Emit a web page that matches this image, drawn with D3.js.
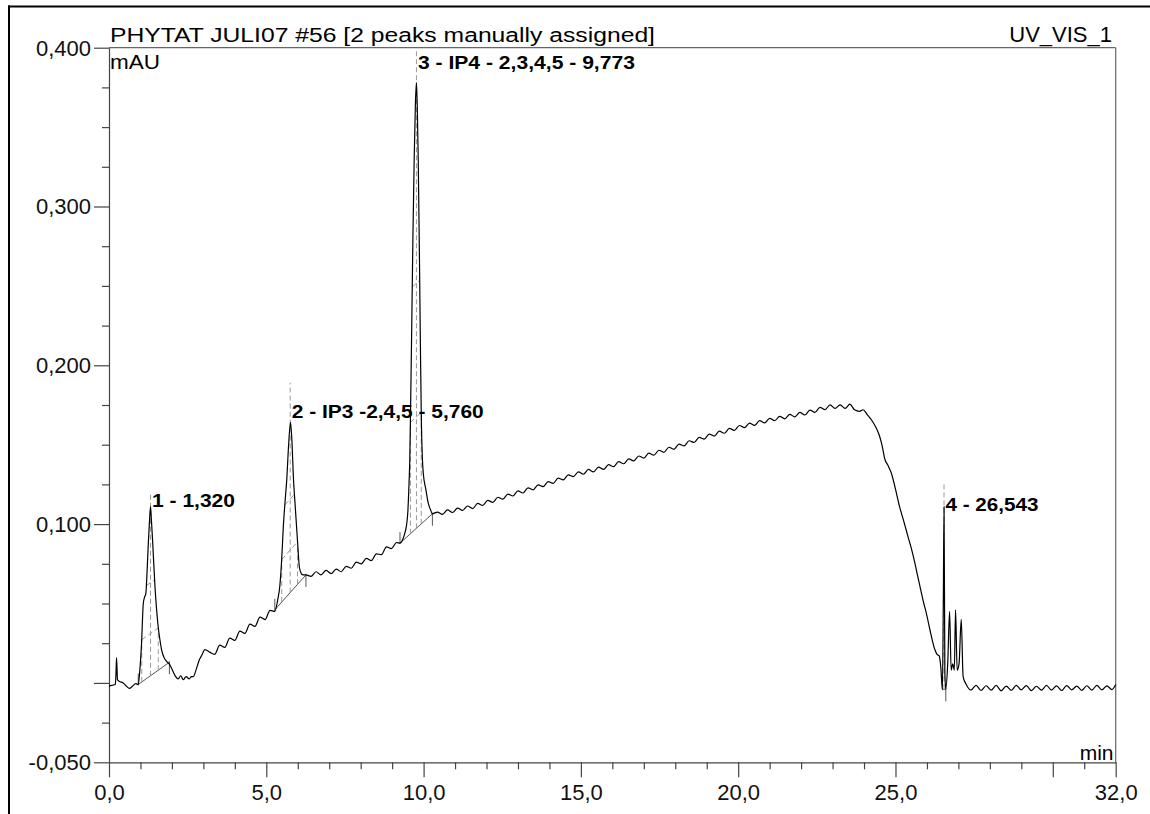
<!DOCTYPE html>
<html><head><meta charset="utf-8">
<script src="https://cdn.jsdelivr.net/npm/d3@7"></script>
<style>
body{margin:0;background:#fff}
svg{display:block}
text{font-family:"Liberation Sans",Arial,Helvetica,sans-serif}
</style>
</head><body>
<svg id="chart" width="1150" height="814"></svg>
<script>
// ---------- texts ----------
const titleText = "PHYTAT JULI07 #56 [2 peaks manually assigned]";
const channelText = "UV_VIS_1";
const yUnitText = "mAU";
const xUnitText = "min";

// ---------- axis ticks ----------
const xMajorTicks = [0, 5, 10, 15, 20, 25, 30, 32];
const xMajorLabels = ["0,0", "5,0", "10,0", "15,0", "20,0", "25,0", "", "32,0"];
const xMinorTicks = [1,2,3,4,6,7,8,9,11,12,13,14,16,17,18,19,21,22,23,24,26,27,28,29,31];
const yMajorTicks = [0.400, 0.300, 0.200, 0.100, 0.000, -0.050];
const yMajorLabels = ["0,400", "0,300", "0,200", "0,100", "", "-0,050"];
const yMinorTicks = [0.375, 0.350, 0.325, 0.275, 0.250, 0.225, 0.175, 0.150, 0.125, 0.075, 0.050, 0.025, -0.025];

// ---------- chromatogram trace: [time (min), signal] ----------
const trace = [
 [0.00,-0.0020],[0.10,-0.0015],[0.20,-0.0010],[0.22,0.0050],[0.24,0.0160],[0.27,0.0020],[0.32,0.0010],
 [0.45,0.0000],[0.55,-0.0020],[0.65,-0.0035],[0.75,-0.0020],[0.85,-0.0005],[0.93,-0.0010],
 [0.98,0.0080],[1.03,0.0230],[1.09,0.0500],[1.13,0.0540],[1.17,0.0560],[1.21,0.0700],[1.25,0.0880],
 [1.29,0.1030],[1.32,0.1110],[1.35,0.1020],[1.39,0.0880],[1.46,0.0610],[1.51,0.0470],[1.56,0.0360],
 [1.62,0.0270],[1.67,0.0210],[1.75,0.0160],[1.83,0.0136],[1.93,0.0115],[1.98,0.0095],[2.04,0.0070],
 [2.12,0.0040],[2.20,0.0025],[2.28,0.0045],[2.36,0.0020],[2.45,0.0040],[2.55,0.0025],[2.62,0.0040],
 [2.68,0.0040],[2.78,0.0090],[2.86,0.0140],[2.94,0.0170],[3.05,0.0210],
 [3.20,0.0194],[3.36,0.0180],[3.52,0.0238],[3.68,0.0224],[3.84,0.0282],[4.00,0.0268],[4.16,0.0326],
 [4.32,0.0312],[4.48,0.0370],[4.64,0.0356],[4.80,0.0414],[4.96,0.0399],[5.12,0.0457],[5.27,0.0450],
 [5.36,0.0520],[5.43,0.0610],[5.49,0.0780],[5.54,0.0980],[5.60,0.1150],[5.65,0.1280],[5.71,0.1500],
 [5.77,0.1640],[5.82,0.1500],[5.86,0.1300],[5.91,0.1140],[5.96,0.0990],[6.01,0.0840],[6.05,0.0730],
 [6.11,0.0690],[6.17,0.0680],[6.26,0.0680],
 [6.42,0.0671],[6.58,0.0700],[6.74,0.0680],[6.90,0.0708],[7.06,0.0688],[7.22,0.0717],[7.38,0.0700],
 [7.54,0.0734],[7.70,0.0722],[7.86,0.0760],[8.02,0.0750],[8.18,0.0784],[8.34,0.0770],[8.50,0.0812],
 [8.66,0.0808],[8.82,0.0857],[8.98,0.0846],[9.14,0.0884],[9.25,0.0880],
 [9.33,0.0900],[9.40,0.0940],[9.46,0.0997],[9.50,0.1080],[9.53,0.1220],[9.56,0.1400],[9.58,0.1640],
 [9.62,0.2200],[9.66,0.2800],[9.70,0.3290],[9.74,0.3650],[9.773,0.3780],[9.80,0.3620],[9.83,0.3290],
 [9.87,0.2650],[9.90,0.2100],[9.93,0.1640],[9.96,0.1420],[9.99,0.1320],[10.07,0.1220],[10.15,0.1130],
 [10.22,0.1090],[10.28,0.1065],
 [10.44,0.1076],[10.60,0.1061],[10.76,0.1089],[10.92,0.1073],[11.08,0.1101],[11.24,0.1086],[11.40,0.1114],
 [11.56,0.1098],[11.72,0.1130],[11.88,0.1118],[12.04,0.1149],[12.20,0.1137],[12.36,0.1169],[12.52,0.1157],
 [12.68,0.1189],[12.84,0.1177],[13.00,0.1209],[13.16,0.1196],[13.32,0.1228],[13.48,0.1216],[13.64,0.1247],
 [13.80,0.1236],[13.96,0.1268],[14.12,0.1257],[14.28,0.1289],[14.44,0.1278],[14.60,0.1310],[14.76,0.1299],
 [14.92,0.1329],[15.08,0.1314],[15.24,0.1344],[15.40,0.1329],[15.56,0.1359],[15.72,0.1344],[15.88,0.1374],
 [16.04,0.1362],[16.20,0.1393],[16.36,0.1380],[16.52,0.1411],[16.68,0.1398],[16.84,0.1429],[17.00,0.1416],
 [17.16,0.1447],[17.32,0.1434],[17.48,0.1465],[17.64,0.1452],[17.80,0.1484],[17.96,0.1471],[18.12,0.1504],
 [18.28,0.1492],[18.44,0.1525],[18.60,0.1514],[18.76,0.1546],[18.92,0.1535],[19.08,0.1567],[19.24,0.1554],
 [19.40,0.1585],[19.56,0.1572],[19.72,0.1603],[19.88,0.1590],[20.04,0.1621],[20.20,0.1607],[20.36,0.1636],
 [20.52,0.1622],[20.68,0.1651],[20.84,0.1637],[21.00,0.1666],[21.16,0.1651],[21.32,0.1679],[21.48,0.1663],
 [21.64,0.1691],[21.80,0.1675],[21.96,0.1703],[22.12,0.1687],[22.28,0.1718],[22.44,0.1704],[22.60,0.1735],
 [22.76,0.1721],[22.92,0.1751],[23.08,0.1729],[23.24,0.1751],[23.40,0.1729],[23.55,0.1755],[23.70,0.1720],
 [23.86,0.1710],[23.97,0.1720],[24.10,0.1690],[24.29,0.1640],[24.40,0.1600],[24.50,0.1550],[24.58,0.1490],
 [24.66,0.1410],[24.76,0.1370],[24.87,0.1320],[25.00,0.1220],[25.13,0.1110],[25.26,0.1020],[25.40,0.0920],
 [25.50,0.0850],[25.61,0.0760],[25.72,0.0660],[25.82,0.0570],[25.90,0.0500],[25.98,0.0440],[26.10,0.0330],
 [26.25,0.0210],[26.32,0.0180],[26.39,0.0170],[26.44,0.0100],[26.49,-0.0040],[26.52,0.0500],[26.543,0.1110],
 [26.57,0.0060],[26.60,-0.0040],[26.66,0.0120],[26.72,0.0450],[26.77,0.0080],[26.82,0.0120],[26.87,0.0080],
 [26.91,0.0460],[26.96,0.0080],[27.02,0.0120],[27.09,0.0400],[27.15,0.0040],[27.25,-0.0010],
 [27.40,-0.0045],[27.56,-0.0015],[27.72,-0.0048],[27.88,-0.0018],[28.04,-0.0046],[28.20,-0.0016],[28.36,-0.0050],
 [28.52,-0.0020],[28.68,-0.0047],[28.84,-0.0015],[29.00,-0.0044],[29.16,-0.0017],[29.32,-0.0049],[29.48,-0.0021],
 [29.64,-0.0046],[29.80,-0.0016],[29.96,-0.0045],[30.12,-0.0019],[30.28,-0.0048],[30.44,-0.0017],[30.60,-0.0044],
 [30.76,-0.0020],[30.92,-0.0047],[31.08,-0.0018],[31.24,-0.0045],[31.40,-0.0016],[31.56,-0.0044],[31.72,-0.0019],
 [31.88,-0.0042],[32.00,-0.0010]
];

// ---------- peaks ----------
const peakTimes   = [1.320, 5.760, 9.773, 26.543];
const peakApex    = [0.111, 0.164, 0.378, 0.111];
const peakLabels  = ["1 - 1,320", "2 - IP3 -2,4,5 - 5,760", "3 - IP4 - 2,3,4,5 - 9,773", "4 - 26,543"];
const peakLabelAt = [0.1110, 0.1665, 0.3865, 0.1085];   // signal level of label baseline
const peakMarkTop = [0.1190, 0.1890, 0.3990, 0.1250];   // top of peak marker
const peakStartT  = [0.93, 5.27, 9.25, 26.49];
const peakStartV  = [-0.0010, 0.0460, 0.0880, -0.0040];
const peakEndT    = [1.92, 6.26, 10.28, 26.60];
const peakEndV    = [0.0130, 0.0680, 0.1065, -0.0040];

// ---------- drawing ----------
const svg = d3.select("#chart");
const x = d3.scaleLinear().domain([0, 32]).range([109, 1115.7]);
const y = d3.scaleLinear().domain([-0.05, 0.40]).range([762.3, 47.7]);
const FS = 22;

// outer frame (top + left edges visible)
svg.append("line").attr("x1", 8).attr("x2", 1150).attr("y1", 6.5).attr("y2", 6.5)
  .attr("stroke", "#000").attr("stroke-width", 2);
svg.append("line").attr("x1", 9).attr("x2", 9).attr("y1", 5.5).attr("y2", 814)
  .attr("stroke", "#000").attr("stroke-width", 2);

// plot frame (top + right)
svg.append("line").attr("x1", x(0)).attr("x2", x(32)).attr("y1", y(0.4)).attr("y2", y(0.4))
  .attr("stroke", "#666").attr("stroke-width", 1.2);
svg.append("line").attr("x1", x(32)).attr("x2", x(32)).attr("y1", y(0.4)).attr("y2", y(-0.05))
  .attr("stroke", "#666").attr("stroke-width", 1.2);

function styleAxis(g) {
  g.selectAll("path.domain").attr("stroke", "#444").attr("stroke-width", 1.2);
  g.selectAll(".tick line").attr("stroke", "#444").attr("stroke-width", 1.2);
  g.selectAll(".tick text").attr("font-size", FS).attr("fill", "#111")
    .attr("font-family", '"Liberation Sans", Arial, sans-serif');
}

// x axis
const gxMinor = svg.append("g").attr("transform", `translate(0,${y(-0.05)})`)
  .call(d3.axisBottom(x).tickValues(xMinorTicks).tickSize(7).tickSizeOuter(0).tickFormat(""));
gxMinor.select("path.domain").remove();
styleAxis(gxMinor);
const gx = svg.append("g").attr("transform", `translate(0,${y(-0.05)})`)
  .call(d3.axisBottom(x).tickValues(xMajorTicks).tickSize(15).tickSizeOuter(0).tickPadding(7)
    .tickFormat((d, i) => xMajorLabels[i]));
styleAxis(gx);

// y axis
const gyMinor = svg.append("g").attr("transform", `translate(${x(0)},0)`)
  .call(d3.axisLeft(y).tickValues(yMinorTicks).tickSize(7).tickSizeOuter(0).tickFormat(""));
gyMinor.select("path.domain").remove();
styleAxis(gyMinor);
const gy = svg.append("g").attr("transform", `translate(${x(0)},0)`)
  .call(d3.axisLeft(y).tickValues(yMajorTicks).tickSize(15).tickSizeOuter(0).tickPadding(3)
    .tickFormat((d, i) => yMajorLabels[i]));
styleAxis(gy);
gy.selectAll(".tick text").attr("dy", "0.34em");

// header texts
svg.append("text").attr("x", 110).attr("y", 42).attr("font-size", 20)
  .attr("textLength", 545).attr("lengthAdjust", "spacingAndGlyphs").text(titleText);
svg.append("text").attr("x", 1112).attr("y", 42).attr("font-size", FS).attr("text-anchor", "end")
  .text(channelText);
svg.append("text").attr("x", 110).attr("y", 69).attr("font-size", 21)
  .attr("textLength", 50).attr("lengthAdjust", "spacingAndGlyphs").text(yUnitText);
svg.append("text").attr("x", 1113.5).attr("y", 760).attr("font-size", 21).attr("text-anchor", "end")
  .text(xUnitText);

// helpers for peak annotation
function traceAt(t) {
  for (let k = 1; k < trace.length; k++) {
    if (trace[k][0] >= t) {
      const a = trace[k-1], b = trace[k];
      return a[1] + (b[1]-a[1]) * (t - a[0]) / (b[0]-a[0]);
    }
  }
  return trace[trace.length-1][1];
}
function baseAt(i, t) {
  return peakStartV[i] + (peakEndV[i]-peakStartV[i]) * (t - peakStartT[i]) / (peakEndT[i]-peakStartT[i]);
}
function crossing(i, f, side) {
  const tp = peakTimes[i];
  const h = peakApex[i] - baseAt(i, tp);
  const t0 = side < 0 ? peakStartT[i] : peakEndT[i];
  const n = 200;
  let prev = null;
  for (let k = 0; k <= n; k++) {
    const t = tp + (t0 - tp) * k / n;
    const lv = baseAt(i, t) + f * h;
    if (traceAt(t) < lv) return prev !== null ? prev : t;
    prev = t;
  }
  return t0;
}

const ann = svg.append("g");
const dash = "5,3";
peakTimes.forEach((tp, i) => {
  // integration baseline
  ann.append("line").attr("x1", x(peakStartT[i])).attr("y1", y(peakStartV[i]))
    .attr("x2", x(peakEndT[i])).attr("y2", y(peakEndV[i]))
    .attr("stroke", "#555").attr("stroke-width", 1);
  ann.append("line").attr("x1", x(peakStartT[i])).attr("x2", x(peakStartT[i]))
    .attr("y1", y(peakStartV[i]) - 11).attr("y2", y(peakStartV[i]) + 1)
    .attr("stroke", "#555").attr("stroke-width", 1);
  ann.append("line").attr("x1", x(peakEndT[i])).attr("x2", x(peakEndT[i]))
    .attr("y1", y(peakEndV[i]) - 1).attr("y2", y(peakEndV[i]) + 12)
    .attr("stroke", "#555").attr("stroke-width", 1);
  // peak marker (dashed, from baseline through the apex)
  ann.append("line").attr("x1", x(tp)).attr("x2", x(tp))
    .attr("y1", y(baseAt(i, tp))).attr("y2", y(peakMarkTop[i]))
    .attr("stroke", "#999").attr("stroke-width", 1).attr("stroke-dasharray", dash);
  // hatching inside peak
  if (i < 3) {
    [0.25, 0.55].forEach(f => {
      const tl = crossing(i, f, -1), tr = crossing(i, f, 1);
      const h = peakApex[i] - baseAt(i, tp);
      ann.append("line").attr("x1", x(tl)).attr("y1", y(baseAt(i, tl) + f*h))
        .attr("x2", x(tr)).attr("y2", y(baseAt(i, tr) + f*h))
        .attr("stroke", "#999").attr("stroke-width", 1).attr("stroke-dasharray", dash);
      if (f === 0.25) {
        [tl, tr].forEach(tc => {
          ann.append("line").attr("x1", x(tc)).attr("x2", x(tc))
            .attr("y1", y(baseAt(i, tc))).attr("y2", y(baseAt(i, tc) + f*h))
            .attr("stroke", "#999").attr("stroke-width", 1).attr("stroke-dasharray", dash);
        });
      }
    });
  }
});

// trace
svg.append("path").datum(trace)
  .attr("d", d3.line().curve(d3.curveMonotoneX).x(d => x(d[0])).y(d => y(d[1])))
  .attr("fill", "none").attr("stroke", "#000").attr("stroke-width", 1.2)
  .attr("stroke-linejoin", "round");

// peak labels
const labelWidths = [83, 192, 217, 93];
peakLabels.forEach((lab, i) => {
  svg.append("text").attr("x", x(peakTimes[i]) + 1.5).attr("y", y(peakLabelAt[i]))
    .attr("font-size", 18).attr("font-weight", "bold").attr("fill", "#000")
    .attr("textLength", labelWidths[i]).attr("lengthAdjust", "spacingAndGlyphs")
    .text(lab);
});
</script>
</body></html>
